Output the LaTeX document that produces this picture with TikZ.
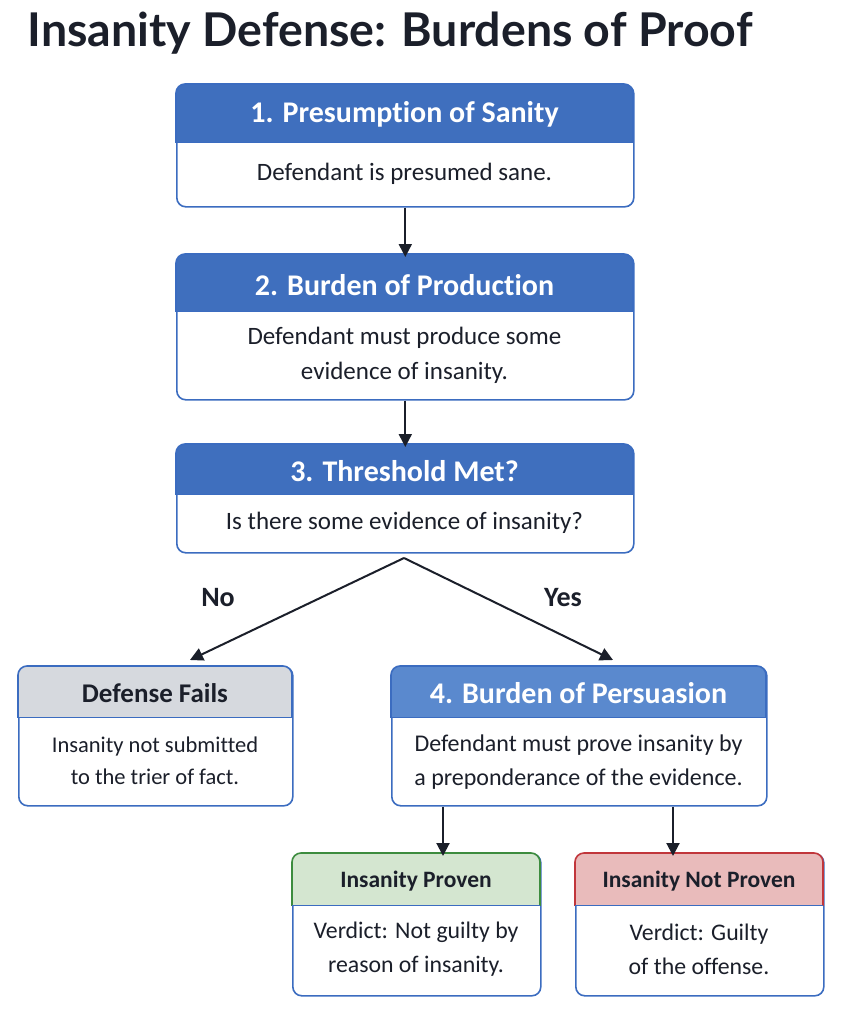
\documentclass[tikz,border=0pt]{standalone}
\usepackage{fontspec}
\setmainfont{Carlito}[Ligatures=NoCommon]
\newfontfamily\titlefont{Lato}
\usetikzlibrary{arrows.meta}
\definecolor{blueH}{HTML}{3F6FBE}
\definecolor{blueL}{HTML}{5A89CE}
\definecolor{blueB}{HTML}{3B6CC0}
\definecolor{grayH}{HTML}{D6D9DE}
\definecolor{greenH}{HTML}{D4E6D0}
\definecolor{greenB}{HTML}{3C8C3E}
\definecolor{redH}{HTML}{E9BBBB}
\definecolor{redB}{HTML}{C1363B}
\definecolor{ink}{HTML}{1B1F2A}
\tikzset{
  cardbg/.style={draw=blueB, line width=1.6pt, fill=white, rounded corners=9pt, inner sep=0pt, anchor=north west},
  hwhite/.style={text=white, font=\bfseries\fontsize{30}{34}\selectfont},
  hdark/.style={text=ink, font=\bfseries\fontsize{27}{30}\selectfont},
  hdarks/.style={text=ink, font=\bfseries\fontsize{23.5}{28}\selectfont},
  bodytxt/.style={text=ink, align=center, font=\fontsize{25}{35}\selectfont},
  bodysm/.style={text=ink, align=center, font=\fontsize{22.5}{32}\selectfont},
  arr/.style={draw=ink, line width=2pt, -{Triangle[length=13pt,width=13pt]}},
  lbl/.style={text=ink, font=\bfseries\fontsize{28}{32}\selectfont},
}
% name, x1, y1, x2, y2, yh, header fill, header border
\newcommand\card[8]{%
  \node[cardbg, minimum width={(#4-#2)*1pt}, minimum height={(#5-#3)*1pt}] (#1) at (#2,#3) {};
  \begin{scope}
    \clip (#2-3,#3-3) rectangle (#4+3,#6);
    \fill[#7, rounded corners=9pt] (#2,#3) rectangle (#4,#5);
    \draw[#8, line width=1.6pt, rounded corners=9pt] (#2,#3) rectangle (#4,#5);
  \end{scope}
  \draw[blueB, line width=1pt] (#2,#6) -- (#4,#6);
}
\begin{document}
\begin{tikzpicture}[x=1pt,y=-1pt]
\useasboundingbox[fill=white] (0,0) rectangle (841,1012);
\node[text=ink, font=\titlefont\bfseries\fontsize{46.5}{52}\selectfont] (title) at (390,33) {Insanity Defense: Burdens of Proof};

\card{b1}{176}{84}{633}{206}{142}{blueH}{blueB}
\node[hwhite] (t1) at (404.5,114) {1. Presumption of Sanity};
\node[bodytxt] (d1) at (404.5,174) {Defendant is presumed sane.};

\card{b2}{176}{254}{633}{399}{311}{blueH}{blueB}
\node[hwhite] (t2) at (404.5,285) {2. Burden of Production};
\node[bodytxt] (d2) at (404.5,355) {Defendant must produce some\\evidence of insanity.};

\card{b3}{176}{444}{633}{552}{494}{blueH}{blueB}
\node[hwhite] (t3) at (404.5,471) {3. Threshold Met?};
\node[bodytxt] (d3) at (404.5,523) {Is there some evidence of insanity?};

\card{df}{18}{666}{292}{805}{717}{grayH}{blueB}
\node[hdark] (tdf) at (155,693) {Defense Fails};
\node[bodysm] (ddf) at (155,761) {Insanity not submitted\\to the trier of fact.};

\card{b4}{391}{666}{766}{805}{717}{blueL}{blueB}
\node[hwhite] (t4) at (578.5,693) {4. Burden of Persuasion};
\node[bodysm, font=\fontsize{24}{34}\selectfont] (d4) at (578.5,762) {Defendant must prove insanity by\\a preponderance of the evidence.};

\card{ip}{292}{853}{540}{995}{905}{greenH}{greenB}
\node[hdarks] (tip) at (416,881) {Insanity Proven};
\node[bodysm, font=\fontsize{23.8}{34}\selectfont] (dip) at (416,949) {Verdict: Not guilty by\\reason of insanity.};

\card{inp}{575}{853}{823}{995}{905}{redH}{redB}
\node[hdarks] (tinp) at (699,881) {Insanity Not Proven};
\node[bodysm, font=\fontsize{23.8}{34}\selectfont] (dinp) at (699,949) {Verdict: Guilty\\of the offense.};

% connectors
\draw[arr] (b1.south) -- ([yshift=-3pt]b2.north);
\draw[arr] (b2.south) -- ([yshift=-3pt]b3.north);
\coordinate (fork) at (404,558);
\coordinate (noTip) at (190,660);
\coordinate (yesTip) at (613,660);
\draw[arr] (fork) -- (noTip);
\draw[arr] (fork) -- (yesTip);
\node[lbl] (no) at (218,598) {No};
\node[lbl] (yes) at (563,598) {Yes};
\coordinate (a1) at (443,0);
\coordinate (a2) at (673,0);
\draw[arr] (a1 |- b4.south) -- ([yshift=-3pt]a1 |- ip.north);
\draw[arr] (a2 |- b4.south) -- ([yshift=-3pt]a2 |- inp.north);
\end{tikzpicture}
\end{document}
